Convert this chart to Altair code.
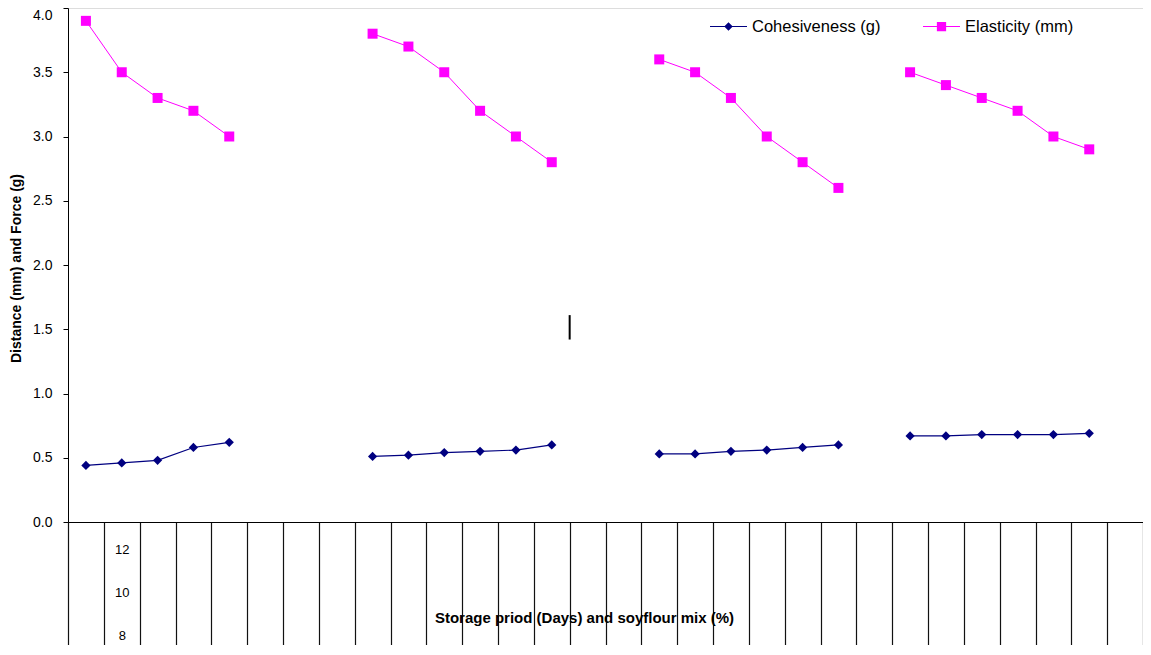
import json
import altair as alt
import pandas as pd

# ---- data ----
slots = [f"{i:02d}" for i in range(1, 31)]          # 30 category slots on the x axis
groups = ["Group 1", "Group 2", "Group 3", "Group 4"]
group_slots = [
    ["01", "02", "03", "04", "05"],
    ["09", "10", "11", "12", "13", "14"],
    ["17", "18", "19", "20", "21", "22"],
    ["24", "25", "26", "27", "28", "29"],
]
cohesiveness = [
    [0.44, 0.46, 0.48, 0.58, 0.62],
    [0.51, 0.52, 0.54, 0.55, 0.56, 0.60],
    [0.53, 0.53, 0.55, 0.56, 0.58, 0.60],
    [0.67, 0.67, 0.68, 0.68, 0.68, 0.69],
]
elasticity = [
    [3.9, 3.5, 3.3, 3.2, 3.0],
    [3.8, 3.7, 3.5, 3.2, 3.0, 2.8],
    [3.6, 3.5, 3.3, 3.0, 2.8, 2.6],
    [3.5, 3.4, 3.3, 3.2, 3.0, 2.9],
]
series_names = ["Cohesiveness (g)", "Elasticity (mm)"]
series_colors = ["#000080", "#FF00FF"]
y_ticks = [0, 0.5, 1.0, 1.5, 2.0, 2.5, 3.0, 3.5, 4.0]
under_label_slot = "02"
under_labels = ["12", "10", "8"]
stray_slot = ["15"]
stray_lo = [1.42]
stray_hi = [1.61]

rows = []
for g, sl, coh, ela in zip(groups, group_slots, cohesiveness, elasticity):
    for i, s in enumerate(sl):
        rows.append({"slot": s, "group": g, "series": series_names[0], "value": coh[i], "ord": i})
        rows.append({"slot": s, "group": g, "series": series_names[1], "value": ela[i], "ord": i})
df = pd.DataFrame(rows)
stray_df = pd.DataFrame({"slot": stray_slot, "lo": stray_lo, "hi": stray_hi})

FONT = "Liberation Sans"

x_axis = alt.Axis(
    title="Storage priod (Days) and soyflour mix (%)",
    titleFont=FONT, titleFontSize=15, titleFontWeight="bold", titleColor="black",
    titleX=516, titleY=95, titleAlign="center", titleBaseline="middle",
    domain=True, domainColor="black", domainWidth=1,
    ticks=True, tickBand="extent", tickSize=125, tickColor="#111", tickWidth=1.2,
    labels=True, labelAngle=0, labelFont=FONT, labelFontSize=13, labelColor="black",
    labelExpr=f"datum.value == '{under_label_slot}' ? {json.dumps(under_labels)} : ''",
    labelLineHeight=43, labelPadding=-104, labelBaseline="top",
    grid=False,
)
y_axis = alt.Axis(
    title="Distance (mm) and Force (g)",
    titleFont=FONT, titleFontSize=14, titleFontWeight="bold", titleColor="black",
    titleAngle=270, titleX=-52, titleY=260, titleAlign="center", titleBaseline="middle",
    values=y_ticks, format=".1f",
    labelFont=FONT, labelFontSize=14, labelColor="black", labelPadding=11,
    labelBaseline={"condition": {"test": "datum.value >= 4", "value": "top"}, "value": "middle"},
    tickSize=5, tickColor="black", domainColor="black", grid=False,
)

x_enc = alt.X("slot:N", scale=alt.Scale(type="band", domain=slots, paddingInner=0, paddingOuter=0), axis=x_axis)
y_enc = alt.Y("value:Q", scale=alt.Scale(domain=[0, 4], nice=False, zero=False), axis=y_axis)

base = alt.Chart(df)

line_coh = base.transform_filter(alt.datum.series == series_names[0]).mark_line(
    color=series_colors[0], strokeWidth=1.2
).encode(x=x_enc, y=y_enc, detail="group:N", order="ord:Q")
line_ela = base.transform_filter(alt.datum.series == series_names[1]).mark_line(
    color=series_colors[1], strokeWidth=1
).encode(x=x_enc, y=y_enc, detail="group:N", order="ord:Q")

pts_coh = base.transform_filter(alt.datum.series == series_names[0]).mark_point(
    shape="diamond", filled=True, size=85, color=series_colors[0], opacity=1
).encode(x=x_enc, y=y_enc)
pts_ela = base.transform_filter(alt.datum.series == series_names[1]).mark_point(
    shape="square", filled=True, size=100, color=series_colors[1], opacity=1
).encode(x=x_enc, y=y_enc)

# legend-only layer (no visible marks): symbols combine the line and the marker
legend_paths = [
    "M-1,-0.03L1,-0.03L1,0.03L-1,0.03Z M0,-0.23L0.23,0L0,0.23L-0.23,0Z",
    "M-1,-0.03L1,-0.03L1,0.03L-1,0.03Z M-0.25,-0.25L0.25,-0.25L0.25,0.25L-0.25,0.25Z",
]
legend = alt.Legend(
    orient="none", legendX=642, legendY=0, direction="horizontal", title=None,
    symbolSize=1369, symbolStrokeWidth=0, labelFont=FONT, labelFontSize=16.5, labelColor="black",
    labelOffset=5, columnPadding=42, padding=0,
)
legend_layer = base.transform_filter("false").mark_point(filled=True, size=1369, opacity=1).encode(
    x=x_enc, y=y_enc,
    color=alt.Color("series:N", scale=alt.Scale(domain=series_names, range=series_colors), legend=legend),
    shape=alt.Shape("series:N", scale=alt.Scale(domain=series_names, range=legend_paths), legend=legend),
)

stray = alt.Chart(stray_df).mark_rule(color="black", strokeWidth=2).encode(
    x=alt.X("slot:N", bandPosition=0, scale=alt.Scale(type="band", domain=slots, paddingInner=0, paddingOuter=0), axis=x_axis),
    y=alt.Y("lo:Q", scale=alt.Scale(domain=[0, 4], nice=False, zero=False), axis=y_axis),
    y2="hi:Q",
)

chart = alt.layer(line_coh, line_ela, pts_coh, pts_ela, legend_layer, stray).properties(
    width=1075, height=514,
    padding={"left": 60, "top": 0, "right": 0, "bottom": 123},
    autosize=alt.AutoSizeParams(type="none"),
).configure_view(stroke=None).configure(font=FONT)

chart.save("out.html", embed_options={"renderer": "svg", "actions": False})
